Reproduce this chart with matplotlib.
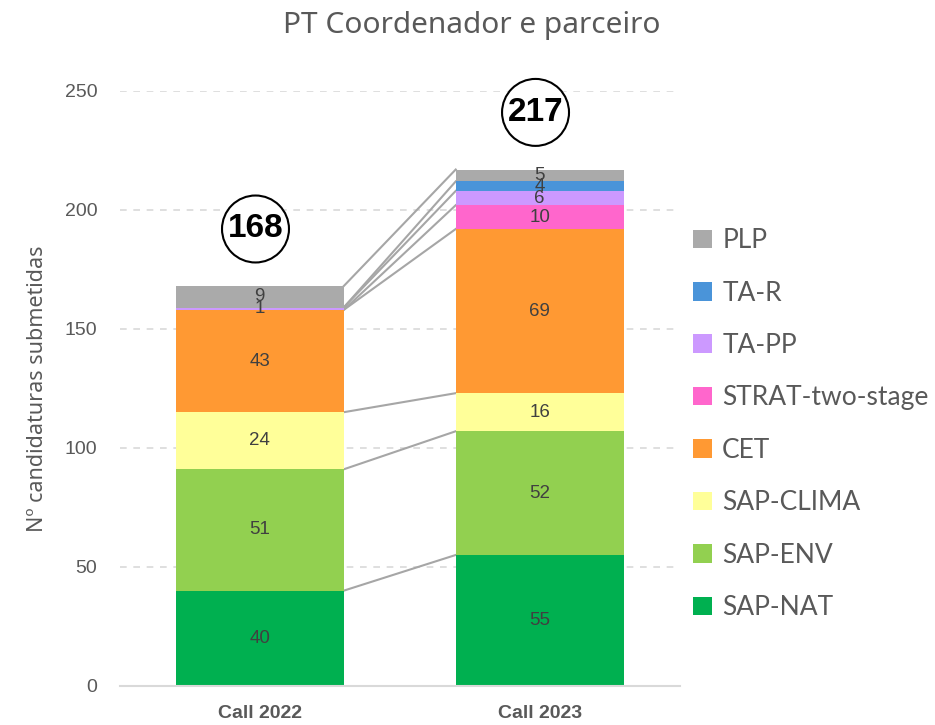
import numpy as np
import matplotlib
matplotlib.use('Agg')
from matplotlib import pyplot as plt

# Data
calls = ['Call 2022', 'Call 2023']
series = ['SAP-NAT', 'SAP-ENV', 'SAP-CLIMA', 'CET', 'STRAT-two-stage', 'TA-PP', 'TA-R', 'PLP']
values = {
    'SAP-NAT': [40, 55],
    'SAP-ENV': [51, 52],
    'SAP-CLIMA': [24, 16],
    'CET': [43, 69],
    'STRAT-two-stage': [0, 10],
    'TA-PP': [1, 6],
    'TA-R': [0, 4],
    'PLP': [9, 5],
}
colors = {
    'SAP-NAT': '#00b050',
    'SAP-ENV': '#92d050',
    'SAP-CLIMA': '#ffff99',
    'CET': '#ff9933',
    'STRAT-two-stage': '#ff66cc',
    'TA-PP': '#cc99ff',
    'TA-R': '#4a94d9',
    'PLP': '#aaaaaa',
}

fig = plt.figure(figsize=(9.35, 7.25), dpi=100)
ax = fig.add_axes([0.128, 0.054, 0.599, 0.8205])

x = np.arange(len(calls))
width = 0.6
bottom = np.zeros(len(calls))
handles = []
for s in series:
    v = np.array(values[s], dtype=float)
    h = ax.bar(x, v, width, bottom=bottom, color=colors[s], label=s, zorder=2)
    handles.append(h)
    for i in range(len(calls)):
        if v[i] > 0:
            ax.text(x[i], bottom[i] + v[i] / 2, str(int(v[i])), ha='center', va='center',
                    fontsize=13.5, color='#404040', family='Liberation Sans', zorder=4)
    # series lines between the bars
    top = bottom + v
    ax.plot([x[0] + width / 2, x[1] - width / 2], [top[0], top[1]],
            color='#a6a6a6', lw=1.5, zorder=1)
    bottom = top

# totals in circles
for i in range(len(calls)):
    ax.text(x[i] - 0.015, bottom[i] + 24, str(int(bottom[i])), ha='center', va='center',
            fontsize=24, fontweight='bold', color='black', family='Liberation Sans',
            bbox=dict(boxstyle='circle,pad=0.17', fc='white', ec='black', lw=1.5),
            clip_on=False, zorder=5)

ax.set_xlim(-0.5, 1.5)
ax.set_ylim(0, 250)
ax.set_yticks(np.arange(0, 251, 50))
ax.grid(axis='y', color='#d9d9d9', ls=(0, (4, 4)), lw=1.2, zorder=0)
ax.set_axisbelow(True)
for sp in ['top', 'right', 'left']:
    ax.spines[sp].set_visible(False)
ax.spines['bottom'].set_color('#d9d9d9')
ax.spines['bottom'].set_linewidth(1.5)
ax.tick_params(axis='both', length=0, colors='#595959', labelsize=14)
ax.tick_params(axis='y', pad=16)
ax.tick_params(axis='x', pad=14)
ax.set_xticks(x)
ax.set_xticklabels(calls, fontweight='bold', family='Liberation Sans')
for t in ax.get_yticklabels():
    t.set_family('Liberation Sans')

ax.set_ylabel('Nº candidaturas submetidas', fontsize=15.5, color='#595959', labelpad=12,
              family='Noto Sans')
fig.suptitle('PT Coordenador e parceiro', x=0.505, y=0.985, fontsize=21.5, color='#595959',
             family='Noto Sans')

leg = fig.legend(handles[::-1], series[::-1], loc='center left', bbox_to_anchor=(0.716, 0.415),
                 frameon=False, prop={'family': 'Lato', 'size': 19},
                 labelcolor='#595959', handlelength=0.7, handleheight=0.7,
                 handletextpad=0.4, labelspacing=1.04)

plt.savefig('out.png', dpi=100)
plt.close()
